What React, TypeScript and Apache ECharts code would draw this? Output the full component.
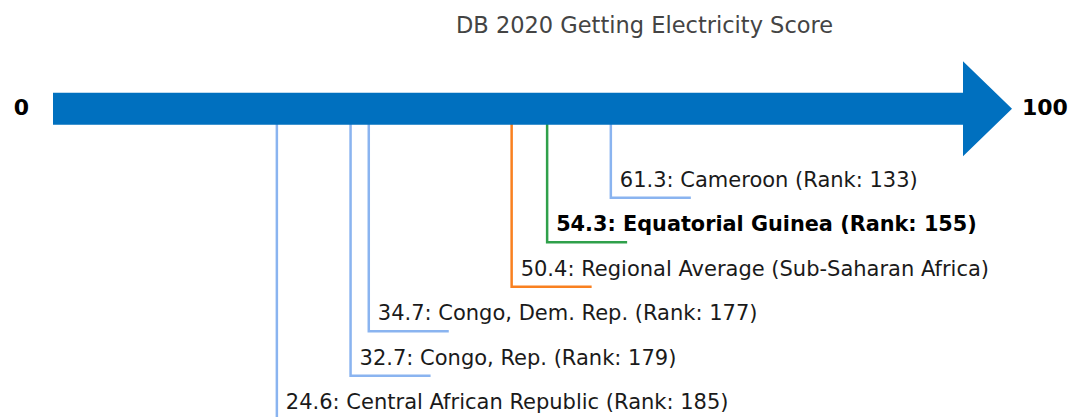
import React, { useEffect, useRef } from "react";
import * as echarts from "echarts";

// ---- data ----
const chartTitle = "DB 2020 Getting Electricity Score";
const axisEnds = [0, 100];
const names = [
  "Central African Republic",
  "Congo, Rep.",
  "Congo, Dem. Rep.",
  "Regional Average (Sub-Saharan Africa)",
  "Equatorial Guinea",
  "Cameroon",
];
const scores = [24.6, 32.7, 34.7, 50.4, 54.3, 61.3];
const ranks: (number | null)[] = [185, 179, 177, null, 155, 133];
const kinds = ["peer", "peer", "peer", "regional", "focus", "peer"];
const rows = [7, 6, 5, 4, 3, 2];

const COLORS: Record<string, string> = {
  peer: "#8AB4F0",
  regional: "#F98020",
  focus: "#2FA04A",
};
const FONT = "'DejaVu Sans', 'Noto Sans', sans-serif";

export default function App() {
  const ref = useRef<HTMLDivElement>(null);
  useEffect(() => {
    if (!ref.current) return;
    const chart = echarts.init(ref.current, null, { renderer: "svg" });
    const step = 44.5;
    const center = 108.7;
    const option: any = {
      animation: false,
      title: {
        text: chartTitle,
        left: 451,
        top: 8,
        textStyle: {
          fontFamily: FONT,
          fontSize: 22.5,
          fontWeight: "normal",
          color: "#444444",
        },
      },
      grid: {
        left: 53,
        top: center - 2 * step,
        width: 910,
        height: 8 * step,
      },
      xAxis: { type: "value", min: axisEnds[0], max: axisEnds[1], show: false },
      yAxis: { type: "value", min: -2, max: 6, inverse: true, show: false },
      series: [
        {
          type: "custom",
          z: 2,
          clip: false,
          data: scores.map((s, i) => [s, rows[i]]),
          renderItem: (params: any, api: any) => {
            const i = params.dataIndex;
            const x = api.value(0);
            const top = api.coord([x, 0]);
            const p = api.coord([x, api.value(1)]);
            const kind = kinds[i];
            const color = COLORS[kind];
            const text =
              ranks[i] == null
                ? `${scores[i]}: ${names[i]}`
                : `${scores[i]}: ${names[i]} (Rank: ${ranks[i]})`;
            return {
              type: "group",
              children: [
                {
                  type: "polyline",
                  shape: {
                    points: [
                      [p[0], top[1]],
                      [p[0], p[1]],
                      [p[0] + 80, p[1]],
                    ],
                  },
                  style: { stroke: color, lineWidth: 2.5, fill: null },
                },
                {
                  type: "text",
                  x: p[0] + 9,
                  y: p[1] - 18,
                  style: {
                    text,
                    font: `${kind === "focus" ? "bold 20.8px" : "21px"} ${FONT}`,
                    fill: kind === "focus" ? "#000000" : "#1a1a1a",
                    align: "left",
                    verticalAlign: "middle",
                  },
                },
              ],
            };
          },
        },
        {
          type: "custom",
          z: 3,
          clip: false,
          data: [[axisEnds[0], 0]],
          renderItem: (params: any, api: any) => {
            const a = api.coord([axisEnds[0], 0]);
            const b = api.coord([axisEnds[1], 0]);
            const c = a[1];
            const sh = 16;
            const hh = 47.5;
            const hl = 49;
            return {
              type: "group",
              children: [
                {
                  type: "polygon",
                  shape: {
                    points: [
                      [a[0], c - sh],
                      [b[0], c - sh],
                      [b[0], c - hh],
                      [b[0] + hl, c],
                      [b[0], c + hh],
                      [b[0], c + sh],
                      [a[0], c + sh],
                    ],
                  },
                  style: { fill: "#0070BF", stroke: null },
                },
                {
                  type: "text",
                  x: a[0] - 24,
                  y: c - 1,
                  style: {
                    text: String(axisEnds[0]),
                    font: `bold 22px ${FONT}`,
                    fill: "#000000",
                    align: "right",
                    verticalAlign: "middle",
                  },
                },
                {
                  type: "text",
                  x: b[0] + hl + 10,
                  y: c - 1,
                  style: {
                    text: String(axisEnds[1]),
                    font: `bold 22px ${FONT}`,
                    fill: "#000000",
                    align: "left",
                    verticalAlign: "middle",
                  },
                },
              ],
            };
          },
        },
      ],
    };
    chart.setOption(option);
    return () => chart.dispose();
  }, []);
  return (
    <div
      ref={ref}
      style={{ position: "fixed", left: 0, top: 0, width: 1072, height: 417, background: "#ffffff" }}
    />
  );
}
